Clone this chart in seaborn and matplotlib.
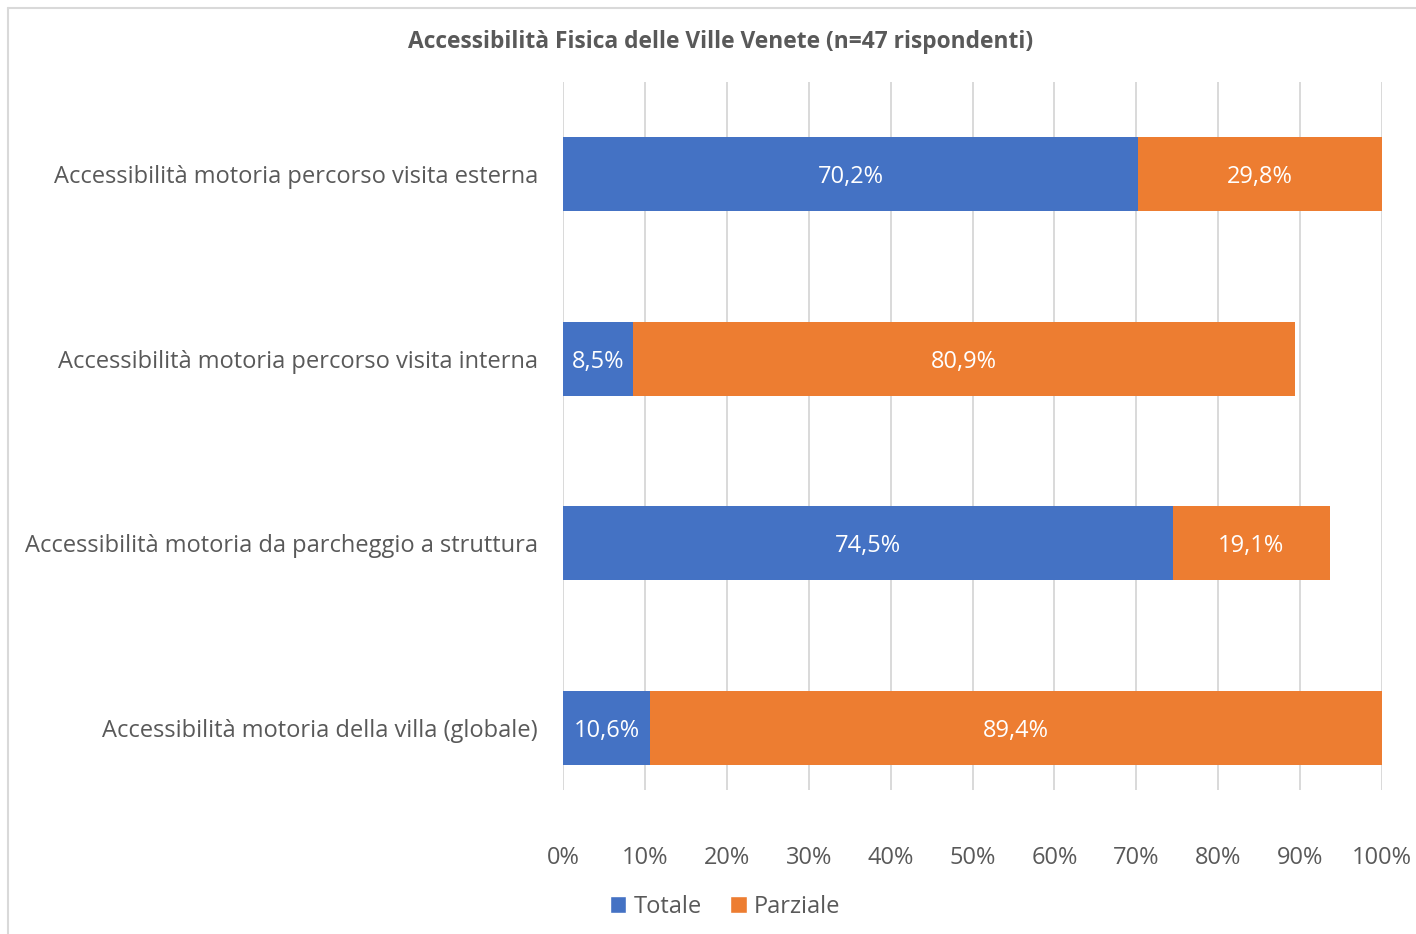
import pandas as pd
import matplotlib.pyplot as plt
import seaborn as sns
from matplotlib.patches import Patch
from matplotlib.lines import Line2D

categories = [
    "Accessibilità motoria percorso visita esterna",
    "Accessibilità motoria percorso visita interna",
    "Accessibilità motoria da parcheggio a struttura",
    "Accessibilità motoria della villa (globale)",
]
totale = [70.2, 8.5, 74.5, 10.6]
parziale = [29.8, 80.9, 19.1, 89.4]
x_ticks = [0, 10, 20, 30, 40, 50, 60, 70, 80, 90, 100]

BLUE = "#4472C4"
ORANGE = "#ED7D31"
GREY = "#595959"

df = pd.DataFrame({"Categoria": categories, "Totale": totale, "Parziale": parziale})
df["Cumulato"] = df["Totale"] + df["Parziale"]

sns.set_style("white")
plt.rcParams["font.family"] = ["Open Sans", "DejaVu Sans"]

fig = plt.figure(figsize=(14.16, 9.34), dpi=100)
ax = fig.add_axes([563 / 1416, 1 - 790 / 934, (1382 - 563) / 1416, (790 - 82) / 934])

# stacked bars: full length in orange, then the first segment in blue on top
sns.barplot(data=df, y="Categoria", x="Cumulato", color=ORANGE, width=0.4,
            orient="h", ax=ax, saturation=1, zorder=2)
sns.barplot(data=df, y="Categoria", x="Totale", color=BLUE, width=0.4,
            orient="h", ax=ax, saturation=1, zorder=3)
for p in ax.patches:
    p.set_edgecolor("none")

ax.set_xlim(0, 100)
ax.set_ylim(3.336, -0.498)
ax.set_xticks(x_ticks)
ax.set_xticklabels([f"{t}%" for t in x_ticks])
ax.grid(axis="x", color="#D9D9D9", linewidth=1.4, zorder=0)
ax.grid(axis="y", visible=False)
ax.set_axisbelow(True)
for s in ax.spines.values():
    s.set_visible(False)
ax.tick_params(axis="both", length=0, colors=GREY, labelsize=17)
ax.tick_params(axis="x", pad=40)
ax.tick_params(axis="y", pad=18)
ax.set_xlabel("")
ax.set_ylabel("")

fmt = lambda v: f"{v:.1f}%".replace(".", ",")
for i, (t, p) in enumerate(zip(totale, parziale)):
    ax.text(t / 2, i, fmt(t), ha="center", va="center_baseline", color="white", fontsize=17, zorder=4)
    ax.text(t + p / 2, i, fmt(p), ha="center", va="center_baseline", color="white", fontsize=17, zorder=4)

fig.text(721 / 1416, 1 - 42 / 934, "Accessibilità Fisica delle Ville Venete (n=47 rispondenti)",
         ha="center", va="center", fontsize=16.4, fontweight="bold", color=GREY)

handles = [Patch(facecolor=BLUE, label="Totale"), Patch(facecolor=ORANGE, label="Parziale")]
leg = fig.legend(handles=handles, loc="center", bbox_to_anchor=(725 / 1416, 1 - 907 / 934),
                 ncol=2, frameon=False, fontsize=17, handlelength=0.7, handleheight=0.7,
                 handletextpad=0.3, columnspacing=1.2)
for txt in leg.get_texts():
    txt.set_color(GREY)

# chart area border (top and left edges visible)
fig.add_artist(Line2D([8 / 1416, 8 / 1416], [0, 1 - 8 / 934], color="#D9D9D9", linewidth=1.5))
fig.add_artist(Line2D([8 / 1416, 1], [1 - 8 / 934, 1 - 8 / 934], color="#D9D9D9", linewidth=1.5))

fig.savefig("out.png", dpi=100, facecolor="white")
